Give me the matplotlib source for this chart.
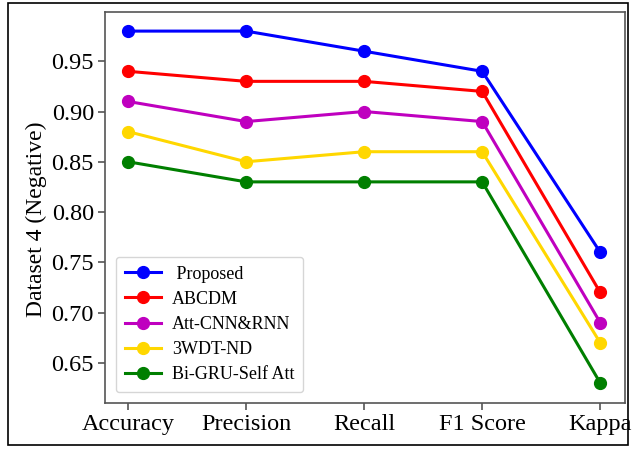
import matplotlib
matplotlib.use("Agg")
import matplotlib.pyplot as plt
from matplotlib.patches import Rectangle

categories = ["Accuracy", "Precision", "Recall", "F1 Score", "Kappa"]
series_names = [" Proposed", "ABCDM", "Att-CNN&RNN", "3WDT-ND", "Bi-GRU-Self Att"]
proposed = [0.98, 0.98, 0.96, 0.94, 0.76]
abcdm = [0.94, 0.93, 0.93, 0.92, 0.72]
att_cnn_rnn = [0.91, 0.89, 0.90, 0.89, 0.69]
wdt_nd = [0.88, 0.85, 0.86, 0.86, 0.67]
bigru = [0.85, 0.83, 0.83, 0.83, 0.63]
colors = ["#0000ff", "#ff0000", "#bf00bf", "#ffd700", "#007f00"]
y_ticks = [0.65, 0.70, 0.75, 0.80, 0.85, 0.90, 0.95]

plt.rcParams['font.family'] = ['Liberation Serif', 'DejaVu Serif']

fig = plt.figure(figsize=(6.36, 4.5), dpi=100)
ax = fig.add_axes([105/636, 1-403/450, 520/636, 391/450])

x = list(range(len(categories)))
for vals, name, c in zip([proposed, abcdm, att_cnn_rnn, wdt_nd, bigru], series_names, colors):
    ax.plot(x, vals, color=c, marker='o', markersize=8.5, linewidth=2.2, label=name)

ax.set_xticks(x)
ax.set_xticklabels(categories, fontsize=17.5)
ax.set_yticks(y_ticks)
ax.set_yticklabels([f"{v:.2f}" for v in y_ticks], fontsize=17.5)
ax.set_xlim(-0.195, 4.21)
ax.set_ylim(0.61, 0.999)
ax.set_ylabel("Dataset 4 (Negative)", fontsize=17)
ax.yaxis.set_label_coords(-0.112, 0.47)
for s in ax.spines.values():
    s.set_color('#555555')
    s.set_linewidth(1.2)
ax.tick_params(colors='#555555', labelcolor='black', length=5, width=1.2, pad=3)

leg = ax.legend(loc='lower left', fontsize=13, frameon=True, borderpad=0.5,
                labelspacing=0.45, handlelength=2.0, handletextpad=0.6,
                bbox_to_anchor=(0.0, 0.0), borderaxespad=0.6)
leg.get_frame().set_edgecolor('#cccccc')

fig.patches.append(Rectangle((8/636, 5/450), 620/636, 442/450, transform=fig.transFigure,
                             fill=False, edgecolor='black', linewidth=1.2))

fig.savefig("out.png", dpi=100)
